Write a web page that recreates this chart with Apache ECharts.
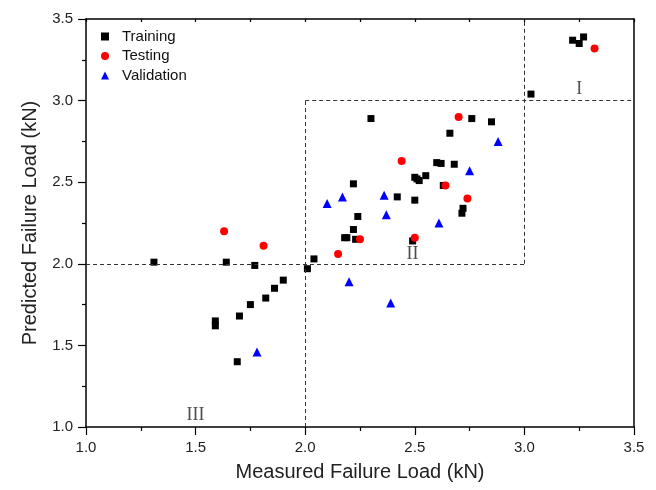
<!DOCTYPE html>
<html>
<head>
<meta charset="utf-8">
<script src="https://cdn.jsdelivr.net/npm/echarts@6/dist/echarts.min.js"></script>
<style>html,body{margin:0;padding:0;background:#fff;}#c{width:656px;height:490px;}</style>
</head>
<body>
<div id="c"></div>
<script>
// Data: [measured, predicted] in kN
const training = [
  [1.31,2.01],[1.64,2.01],[1.77,1.99],[1.90,1.90],[1.86,1.85],[1.82,1.79],[1.75,1.75],[1.70,1.68],
  [1.59,1.65],[1.59,1.62],[1.69,1.40],[2.01,1.97],[2.04,2.03],[2.18,2.16],[2.19,2.16],[2.22,2.21],
  [2.23,2.15],[2.24,2.29],[2.22,2.49],[2.30,2.89],[2.42,2.41],[2.50,2.39],[2.50,2.53],[2.51,2.52],
  [2.52,2.51],[2.55,2.54],[2.60,2.62],[2.62,2.615],[2.68,2.61],[2.66,2.80],[2.76,2.89],[2.85,2.87],
  [2.72,2.34],[2.715,2.31],[2.49,2.14],[2.63,2.48],[3.03,3.04],[3.22,3.37],[3.25,3.35],[3.27,3.39]
];
const testing = [
  [1.63,2.20],[1.81,2.11],[2.15,2.06],[2.25,2.15],[2.44,2.63],[2.50,2.16],[2.64,2.48],[2.70,2.90],
  [2.74,2.40],[3.32,3.32]
];
const validation = [
  [1.78,1.46],[2.10,2.37],[2.17,2.41],[2.36,2.42],[2.37,2.30],[2.20,1.89],[2.39,1.76],[2.61,2.25],
  [2.75,2.57],[2.88,2.75]
];
// Region boundary segments and labels
const boundaries = [
  [[2.0,1.0],[2.0,3.0]],
  [[2.0,3.0],[3.5,3.0]],
  [[3.0,2.0],[3.0,3.5]],
  [[1.0,2.0],[3.0,2.0]]
];
const regionLabels = [
  {name:'I', pos:[3.25,3.07]},
  {name:'II', pos:[2.49,2.06]},
  {name:'III', pos:[1.5,1.07]}
];
const xTicks = [1.0,1.5,2.0,2.5,3.0,3.5];
const yTicks = [1.0,1.5,2.0,2.5,3.0,3.5];

const chart = echarts.init(document.getElementById('c'), null, {renderer:'canvas'});
const sans = 'Liberation Sans, Arial, sans-serif';
const axisFont = {fontFamily:sans, fontSize:15, color:'#222'};
const lineStyleAxis = {color:'#000', width:1.5};

chart.setOption({
  animation:false,
  backgroundColor:'#fff',
  grid:{left:86, right:22, top:19, bottom:63},
  legend:{
    left:96, top:24, orient:'vertical', itemGap:4.5, itemWidth:8, itemHeight:8,
    textStyle:{fontFamily:sans, fontSize:15, color:'#111', padding:[0,0,0,8]},
    data:[
      {name:'Training', icon:'rect'},
      {name:'Testing', icon:'circle'},
      {name:'Validation', icon:'triangle'}
    ]
  },
  xAxis:[{
    type:'value', min:xTicks[0], max:xTicks[xTicks.length-1], interval:0.5,
    name:'Measured Failure Load (kN)', nameLocation:'middle', nameGap:35,
    nameTextStyle:{fontFamily:sans, fontSize:20, color:'#222'},
    axisLine:{show:true, lineStyle:lineStyleAxis},
    axisTick:{show:true, inside:false, length:8, lineStyle:{color:'#000', width:1.2}},
    minorTick:{show:true, splitNumber:2, length:4, lineStyle:{color:'#000', width:1.2}},
    axisLabel:Object.assign({margin:13, formatter:v=>v.toFixed(1)}, axisFont),
    splitLine:{show:false}
  },{
    type:'value', position:'top', min:xTicks[0], max:xTicks[xTicks.length-1], interval:0.25,
    axisLine:{show:true, lineStyle:lineStyleAxis},
    axisTick:{show:true, inside:true, length:3, lineStyle:{color:'#000', width:1.2}},
    axisLabel:{show:false}, splitLine:{show:false}
  }],
  yAxis:[{
    type:'value', min:yTicks[0], max:yTicks[yTicks.length-1], interval:0.5,
    name:'Predicted Failure Load (kN)', nameLocation:'middle', nameGap:46,
    nameTextStyle:{fontFamily:sans, fontSize:20, color:'#222'},
    axisLine:{show:true, lineStyle:lineStyleAxis},
    axisTick:{show:true, inside:false, length:8, lineStyle:{color:'#000', width:1.2}},
    minorTick:{show:true, splitNumber:2, length:4, lineStyle:{color:'#000', width:1.2}},
    axisLabel:Object.assign({margin:13, formatter:v=>v.toFixed(1)}, axisFont),
    splitLine:{show:false}
  },{
    type:'value', position:'right', min:yTicks[0], max:yTicks[yTicks.length-1], interval:0.5,
    axisLine:{show:true, lineStyle:lineStyleAxis},
    axisTick:{show:false}, axisLabel:{show:false}, splitLine:{show:false}
  }],
  series:[
    {
      name:'boundaries', type:'scatter', data:[], silent:true,
      markLine:{
        silent:true, symbol:['none','none'],
        lineStyle:{color:'#333', type:[4,3], width:1},
        label:{show:false},
        data:boundaries.map(s=>[{coord:s[0]},{coord:s[1]}])
      }
    },
    {
      name:'regions', type:'scatter', symbolSize:0, silent:true,
      data:regionLabels.map(r=>({value:r.pos, name:r.name})),
      label:{show:true, position:'inside', formatter:p=>p.name,
        fontFamily:'Liberation Serif, Times New Roman, serif', fontSize:18, color:'#222'}
    },
    {name:'Training', type:'scatter', symbol:'rect', symbolSize:7, data:training, itemStyle:{color:'#000', opacity:1}, z:3},
    {name:'Testing', type:'scatter', symbol:'circle', symbolSize:8, data:testing, itemStyle:{color:'#ff0000', opacity:1}, z:4},
    {name:'Validation', type:'scatter', symbol:'triangle', symbolSize:9, data:validation, itemStyle:{color:'#0000ff', opacity:1}, z:4}
  ]
});
</script>
</body>
</html>
